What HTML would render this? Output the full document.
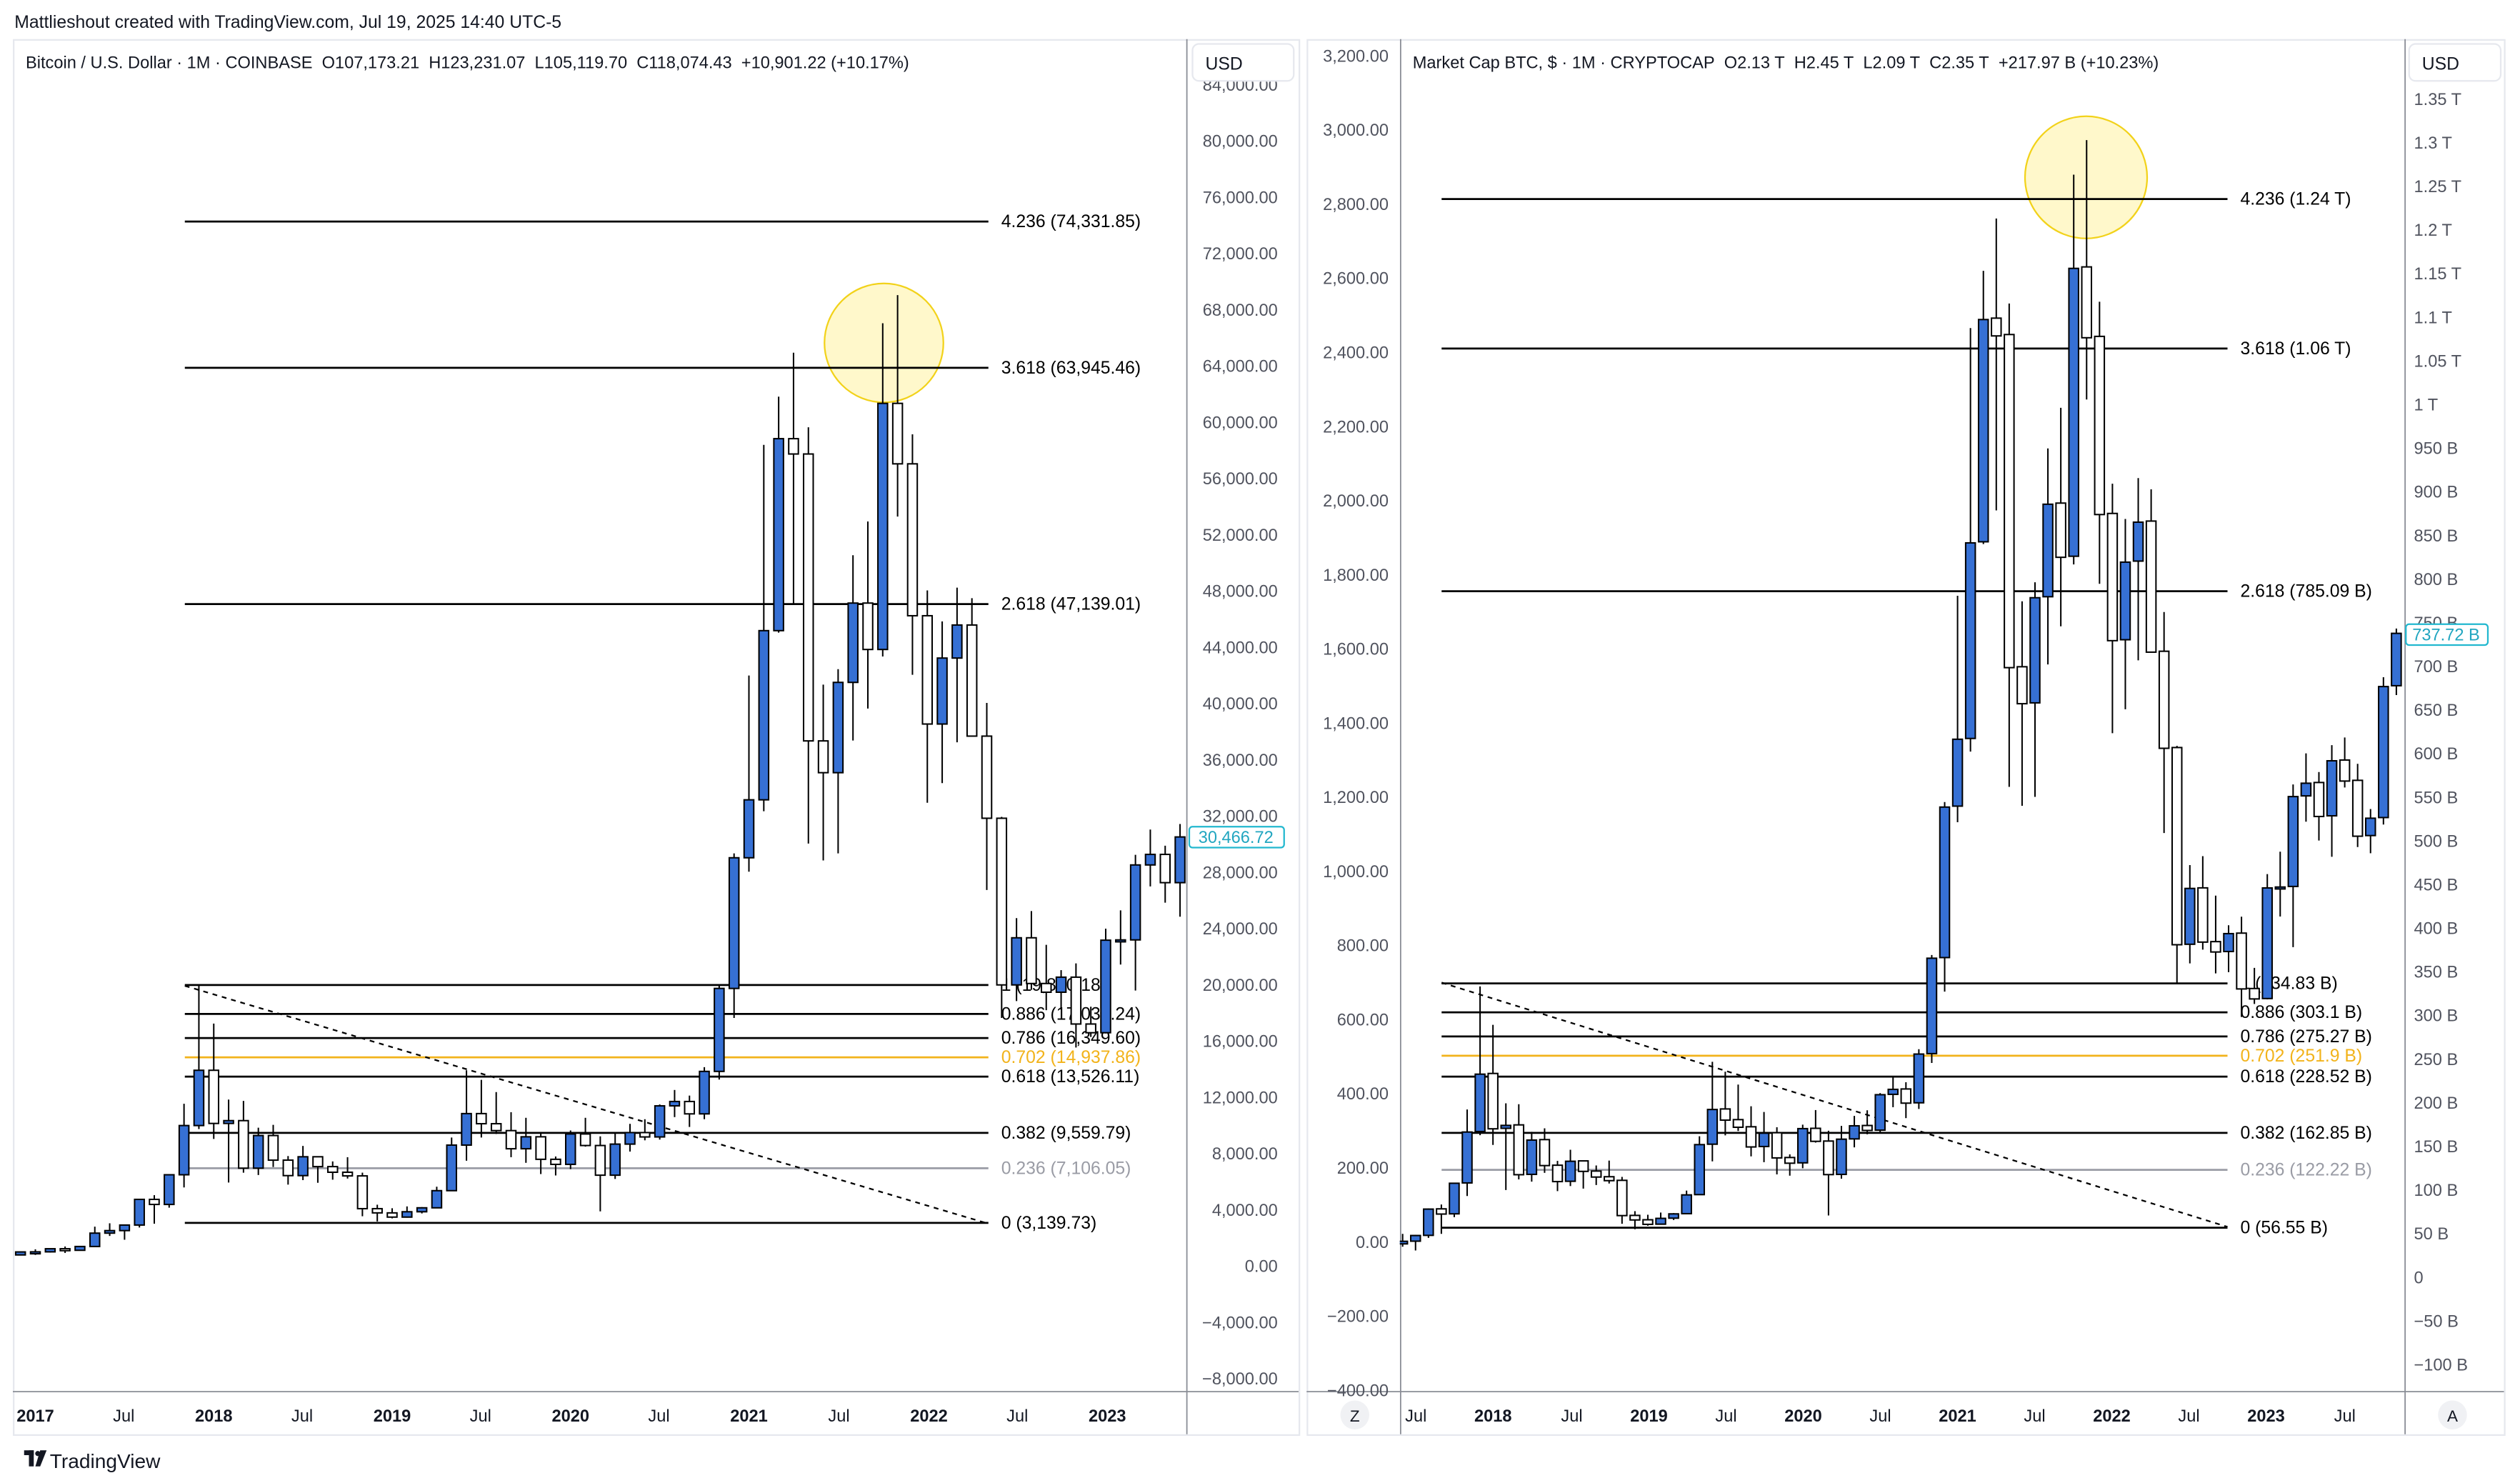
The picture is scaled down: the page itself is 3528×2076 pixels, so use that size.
<!DOCTYPE html>
<html><head><meta charset="utf-8"><style>
html,body{margin:0;padding:0;background:#fff;width:3528px;height:2076px;overflow:hidden}
svg{display:block}
text{font-family:"Liberation Sans",sans-serif}
</style></head><body>
<svg id="s" width="3528" height="2076" viewBox="0 0 1568 922" xmlns="http://www.w3.org/2000/svg">
<defs>
<clipPath id="cl"><rect x="8" y="55" width="730" height="810"/></clipPath>
<clipPath id="cr"><rect x="871" y="55" width="625" height="810"/></clipPath>
</defs>
<rect width="1568" height="922" fill="#fff"/>
<text x="9" y="17" font-size="11" fill="#131722">Mattlieshout created with TradingView.com, Jul 19, 2025 14:40 UTC-5</text>
<rect x="8.5" y="24.5" width="800" height="868" fill="none" stroke="#e6e8ee"/>
<rect x="813.5" y="24.5" width="745" height="868" fill="none" stroke="#e6e8ee"/>
<g id="g"></g>
<rect x="15" y="902" width="6" height="3" fill="#131722"/><rect x="18" y="902" width="3" height="10" fill="#131722"/>
<circle cx="23.5" cy="904" r="1.6" fill="#131722"/><path d="M25 902 L29 902 L25 912 L22 912 Z" fill="#131722"/>
<text x="31" y="913" font-size="12.5" fill="#131722">TradingView</text>
</svg>
<script>
var NS="http://www.w3.org/2000/svg",G=document.getElementById('g');
function el(t,a,txt,par){var e=document.createElementNS(NS,t);for(var k in a)e.setAttribute(k,a[k]);if(txt!=null)e.textContent=txt;(par||G).appendChild(e);return e;}
var D=[[750,980,740,963],
[963,1150,750,970],[970,1200,920,1190],[1190,1350,890,1080],[1080,1350,1080,1350],[1350,2760,1350,2300],[2300,3000,2100,2480],[2480,2920,1830,2875],[2875,4750,2700,4700],[4700,5000,2970,4340],[4340,6450,4110,6450],[6450,11500,5550,9950],[9950,19890,9700,13880],
[13880,17200,9000,10100],[10100,11800,5900,10300],[10300,11700,6600,6920],[6920,9800,6430,9240],[9240,10000,7000,7490],[7490,7780,5750,6390],[6390,8500,6070,7730],[7730,7760,5880,7030],[7030,7400,6100,6630],[6630,7700,6180,6370],[6370,6600,3500,4040],[4040,4320,3130,3740],
[3740,4070,3350,3440],[3440,4200,3400,3820],[3820,4150,3700,4100],[4100,5600,4100,5320],[5320,9100,5320,8560],[8560,13880,7450,10800],[10800,13200,9100,10080],[10080,12330,9350,9590],[9590,10900,7700,8300],[8300,10500,7300,9150],[9150,9500,6500,7550],[7550,7750,6400,7190],
[7190,9600,6850,9350],[9350,10500,8450,8530],[8530,9180,3850,6420],[6420,9460,6150,8630],[8630,10070,8100,9450],[9450,10400,8900,9140],[9140,11450,8950,11350],[11350,12480,10550,11660],[11660,12080,9850,10780],[10780,14100,10400,13800],[13800,19900,13220,19700],[19700,29300,17600,28990],
[28990,41950,28000,33110],[33110,58350,32300,45140],[45140,61780,45000,58790],[58790,64900,47000,57700],[57700,59600,30000,37300],[37300,41300,28800,35040],[35040,42400,29300,41460],[41460,50500,37330,47100],[47100,52900,39600,43800],[43800,67000,43300,61300],[61300,69000,53250,57000],[57000,59100,42000,46200],
[46200,48000,32900,38500],[38500,45800,34300,43190],[43190,48200,37200,45540],[45540,47450,37700,37640],[37640,40000,26700,31800],[31800,31900,17600,19950],[19950,24700,18800,23300],[23300,25200,19600,20050],[20050,22800,18150,19430],[19430,21000,18200,20500],[20500,21480,15500,17170],[17170,18400,16250,16550],
[16550,23950,16500,23130],[23130,25250,21400,23150],[23150,29200,19550,28480],[28480,31000,26950,29230],[29230,29850,25800,27220],[27220,31390,24800,30470],
[30470,31800,28850,29230],[29230,30200,25300,25940],[25940,27500,24900,26960],[26960,35200,26550,34650],[34650,38000,34100,37720]];
function sup(m){var p=[16.08,16.78,17.45,18.15,18.6,18.93,19.26,19.6];var y=Math.floor(m/12),f=(m%12)/12;y=Math.min(y,6);return p[y]+(p[y+1]-p[y])*f;}
var BLUE="#3670d4";
function candles(xf,yf,valf,par,maxm,w){
 for(var i=0;i<D.length;i++){var m=i-1;if(m>maxm)break;var d=D[i],s=valf(m);
  var x=xf(m),o=yf(d[0]*s),h=yf(d[1]*s),l=yf(d[2]*s),c=yf(d[3]*s),up=d[3]>=d[0];
  el('line',{x1:x,x2:x,y1:h,y2:l,stroke:'#000','stroke-width':0.9},null,par);
  var t=Math.min(o,c),bh=Math.max(Math.abs(o-c),1.2);
  el('rect',{x:x-w/2,y:t,width:w,height:bh,fill:up?BLUE:'#fff',stroke:'#000','stroke-width':0.9},null,par);}
}
el('line',{x1:738.5,x2:738.5,y1:24,y2:892,stroke:'#8a8d96','stroke-width':0.8});
el('line',{x1:8,x2:808,y1:865.5,y2:865.5,stroke:'#8a8d96','stroke-width':0.8});
el('line',{x1:871.5,x2:871.5,y1:24,y2:892,stroke:'#8a8d96','stroke-width':0.8});
el('line',{x1:1496.5,x2:1496.5,y1:24,y2:892,stroke:'#8a8d96','stroke-width':0.8});
el('line',{x1:813,x2:1558,y1:865.5,y2:865.5,stroke:'#8a8d96','stroke-width':0.8});
for(var v=84000;v>=-8000;v-=4000){var y=787-v*0.00875;
 el('text',{x:795,y:y+4,'font-size':10.5,fill:'#50535e','text-anchor':'end'},(v<0?'\u2212':'')+Math.abs(v).toLocaleString('en-US')+'.00');}
el('rect',{x:742,y:27,width:63,height:23,rx:4,fill:'#fff',stroke:'#e6e8ee'});
el('text',{x:750,y:43,'font-size':11,fill:'#131722'},'USD');
for(var v=3200;v>=-400;v-=200){var y=772-v*0.2306;
 el('text',{x:864,y:y+4,'font-size':10.5,fill:'#50535e','text-anchor':'end'},(v<0?'\u2212':'')+Math.abs(v).toLocaleString('en-US')+'.00');}
for(var k=27;k>=-2;k--){var T=k*0.05,y=794-T*543;var lab;
 if(T>=0.999)lab=(Math.round(T*100)/100)+' T';else if(k==0)lab='0';else lab=(k<0?'\u2212':'')+Math.abs(Math.round(T*1000))+' B';
 el('text',{x:1502,y:y+4,'font-size':10.5,fill:'#50535e'},lab);}
el('rect',{x:1499,y:27,width:57,height:23,rx:4,fill:'#fff',stroke:'#e6e8ee'});
el('text',{x:1507,y:43,'font-size':11,fill:'#131722'},'USD');
var S='\u00a0\u00a0';
el('text',{x:16,y:42,'font-size':10.5,fill:'#131722'},'Bitcoin / U.S. Dollar · 1M · COINBASE'+S+'O107,173.21'+S+'H123,231.07'+S+'L105,119.70'+S+'C118,074.43'+S+'+10,901.22 (+10.17%)');
el('text',{x:879,y:42,'font-size':10.5,fill:'#131722'},'Market Cap BTC, $ · 1M · CRYPTOCAP'+S+'O2.13 T'+S+'H2.45 T'+S+'L2.09 T'+S+'C2.35 T'+S+'+217.97 B (+10.23%)');
var tl=[['2017',22,1],['Jul',77],['2018',133,1],['Jul',188],['2019',244,1],['Jul',299],['2020',355,1],['Jul',410],['2021',466,1],['Jul',522],['2022',578,1],['Jul',633],['2023',689,1]];
tl.forEach(function(t){el('text',{x:t[1],y:884,'font-size':10.5,fill:'#131722','text-anchor':'middle','font-weight':t[2]?'bold':'normal'},t[0]);});
var tr=[['Jul',881],['2018',929,1],['Jul',978],['2019',1026,1],['Jul',1074],['2020',1122,1],['Jul',1170],['2021',1218,1],['Jul',1266],['2022',1314,1],['Jul',1362],['2023',1410,1],['Jul',1459]];
tr.forEach(function(t){el('text',{x:t[1],y:884,'font-size':10.5,fill:'#131722','text-anchor':'middle','font-weight':t[2]?'bold':'normal'},t[0]);});
el('circle',{cx:843,cy:880,r:9,fill:'#f0f1f4'});el('text',{x:843,y:884,'font-size':10,fill:'#131722','text-anchor':'middle'},'Z');
el('circle',{cx:1526,cy:880,r:9,fill:'#f0f1f4'});el('text',{x:1526,y:884,'font-size':10,fill:'#131722','text-anchor':'middle'},'A');
var gl=el('g',{'clip-path':'url(#cl)'});
el('circle',{cx:550,cy:213,r:37,fill:'#fff7c2',stroke:'#f2d21a','stroke-width':1,'fill-opacity':0.85},null,gl);
var fl=[['4.236 (74,331.85)',137],['3.618 (63,945.46)',228],['2.618 (47,139.01)',375],['1 (19,810.18)',612],['0.886 (17,030.24)',630],['0.786 (16,349.60)',645],['0.702 (14,937.86)',657,'#f2b31b'],['0.618 (13,526.11)',669],['0.382 (9,559.79)',704],['0.236 (7,106.05)',726,'#9a9ca5'],['0 (3,139.73)',760]];
fl.forEach(function(f){var c=f[2]||'#000';el('line',{x1:115,x2:615,y1:f[1]+.5,y2:f[1]+.5,stroke:c,'stroke-width':1.2},null,gl);el('text',{x:623,y:f[1]+4,'font-size':11,fill:c},f[0],gl);});
el('line',{x1:115,y1:613,x2:615,y2:761,stroke:'#000','stroke-width':1,'stroke-dasharray':'3,3'},null,gl);
candles(function(m){return 22+m*9.25},function(p){return 787-p*0.00875},function(){return 1},gl,77,6);
el('rect',{x:740,y:514,width:59,height:13,rx:2,fill:'#fff',stroke:'#22b8cf'});
el('text',{x:769,y:524,'font-size':10.5,fill:'#22a6c0','text-anchor':'middle'},'30,466.72');
var gr=el('g',{'clip-path':'url(#cr)'});
el('circle',{cx:1298,cy:110,r:38,fill:'#fff7c2',stroke:'#f2d21a','stroke-width':1,'fill-opacity':0.85},null,gr);
var fr=[['4.236 (1.24 T)',123],['3.618 (1.06 T)',216],['2.618 (785.09 B)',367],['1 (334.83 B)',611],['0.886 (303.1 B)',629],['0.786 (275.27 B)',644],['0.702 (251.9 B)',656,'#f2b31b'],['0.618 (228.52 B)',669],['0.382 (162.85 B)',704],['0.236 (122.22 B)',727,'#9a9ca5'],['0 (56.55 B)',763]];
fr.forEach(function(f){var c=f[2]||'#000';el('line',{x1:897,x2:1386,y1:f[1]+.5,y2:f[1]+.5,stroke:c,'stroke-width':1.2},null,gr);el('text',{x:1394,y:f[1]+4,'font-size':11,fill:c},f[0],gr);});
el('line',{x1:897,y1:611,x2:1386,y2:763,stroke:'#000','stroke-width':1,'stroke-dasharray':'3,3'},null,gr);
candles(function(m){return 832.6+m*8.03},function(v){return 794-v*543},function(m){return sup(m)/1e6},gr,82,6);
el('rect',{x:1497,y:388,width:51,height:13,rx:2,fill:'#fff',stroke:'#22b8cf'});
el('text',{x:1522,y:398,'font-size':10.5,fill:'#22a6c0','text-anchor':'middle'},'737.72 B');
</script>
</body></html>
